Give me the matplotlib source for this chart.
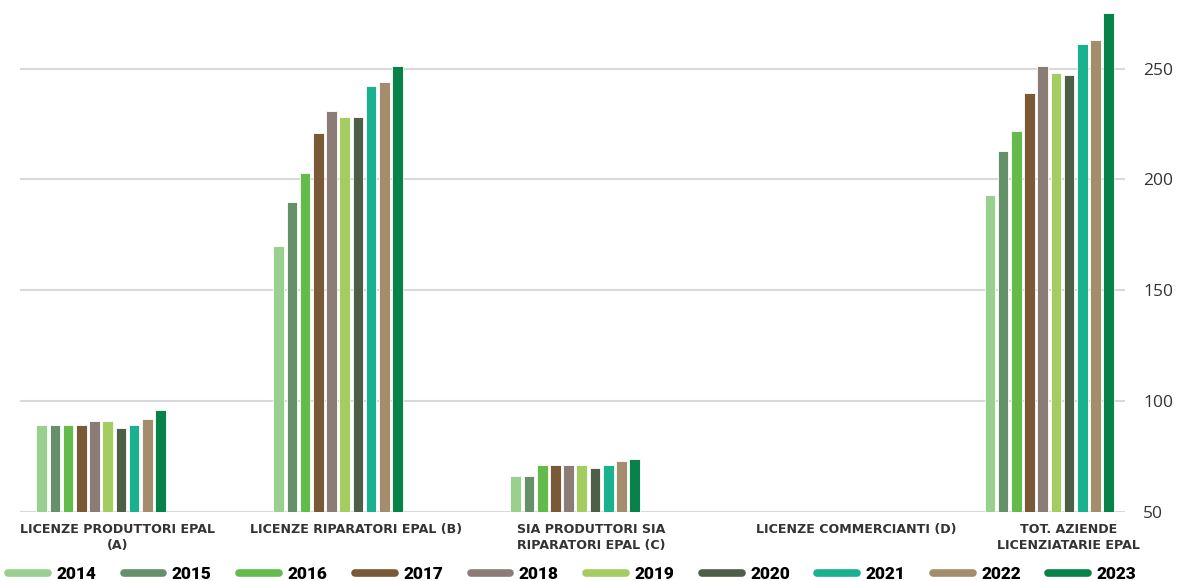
import numpy as np
import matplotlib.pyplot as plt
from matplotlib.lines import Line2D
from matplotlib.ticker import FixedLocator

years = ['2014', '2015', '2016', '2017', '2018', '2019', '2020', '2021', '2022', '2023']
categories = ['LICENZE PRODUTTORI EPAL\n(A)',
              'LICENZE RIPARATORI EPAL (B)',
              'SIA PRODUTTORI SIA\nRIPARATORI EPAL (C)',
              'LICENZE COMMERCIANTI (D)',
              'TOT. AZIENDE\nLICENZIATARIE EPAL']
# values per year: A, B, C, D, TOT
vals_a = [89, 89, 89, 89, 91, 91, 88, 89, 92, 96]
vals_b = [170, 190, 203, 221, 231, 228, 228, 242, 244, 251]
vals_c = [66, 66, 71, 71, 71, 71, 70, 71, 73, 74]
vals_d = [0, 0, 1, 1, 1, 1, 1, 1, 0, 0]
vals_tot = [193, 213, 222, 239, 251, 248, 247, 261, 263, 275]
colors = ['#99cf8f', '#65916a', '#62bb4a', '#7a5936', '#8c7c78',
          '#a3cd61', '#4e5f48', '#1ab18e', '#a48d6c', '#07834a']
# where the category labels sit (they are not exactly centred under the bars)
label_pos = [0.068, 1.076, 2.067, 3.186, 4.08]

data = np.array([vals_a, vals_b, vals_c, vals_d, vals_tot]).T  # years x cats
x = np.arange(len(categories))
step = 0.0557
width = 0.045

plt.close("all")
fig = plt.figure(figsize=(11.77, 5.81), dpi=100)
ax = fig.add_axes([0.017, 0.119, 0.939, 0.866])

for i, yr in enumerate(years):
    off = (i - 4.5) * step
    ax.bar(x + off, data[i], width, color=colors[i], edgecolor='white',
           linewidth=0.6, zorder=3)

ax.set_ylim(50, 277)
ax.set_xlim(-0.342, 4.32)
ax.yaxis.set_major_locator(FixedLocator([50, 100, 150, 200, 250]))
ax.yaxis.tick_right()
ax.tick_params(axis='y', length=0, pad=13, labelsize=12.5, labelcolor='#333333')
for t in ax.get_yticklabels():
    t.set_family('Open Sans')
ax.grid(axis='y', color='#d9d9d9', linewidth=1.5, zorder=0)
for s in ax.spines.values():
    s.set_visible(False)

ax.set_xticks(label_pos)
ax.set_xticklabels(categories, fontsize=9.1, fontweight='bold', color='#333333',
                   family='DejaVu Sans', linespacing=1.3)
ax.tick_params(axis='x', length=0, pad=8)

handles = [Line2D([0], [0], color=c, linewidth=5.5, solid_capstyle='round')
           for c in colors]
fig.legend(handles, years, loc='center left', bbox_to_anchor=(8 / 1177, 7 / 581),
           ncol=10, frameon=False, borderpad=0, borderaxespad=0,
           handlelength=2.3, handletextpad=0.5, columnspacing=1.6,
           prop={'family': 'Roboto', 'weight': 'heavy', 'size': 12.4})

fig.savefig('out.png')
